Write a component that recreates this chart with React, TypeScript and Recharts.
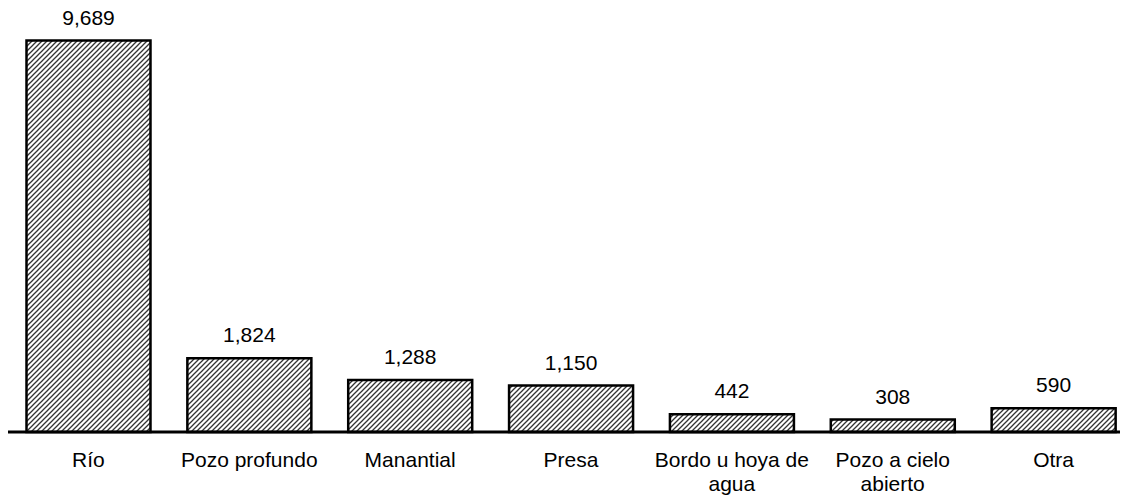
import React from 'react'
import { BarChart, Bar, XAxis, YAxis, LabelList } from 'recharts'

const categories = ['Río', 'Pozo profundo', 'Manantial', 'Presa', 'Bordo u hoya de agua', 'Pozo a cielo abierto', 'Otra']
const values = [9689, 1824, 1288, 1150, 442, 308, 590]

const data = categories.map((name, i) => ({ name, value: values[i] }))

const FONT = '"Liberation Sans", Arial, sans-serif'
const FONT_SIZE = 21

// split a label into lines that fit in maxWidth, measured with canvas
let ctx: CanvasRenderingContext2D | null = null
const wrap = (label: string, maxWidth: number) => {
  if (!ctx) {
    ctx = document.createElement('canvas').getContext('2d')
    if (ctx) ctx.font = `${FONT_SIZE}px ${FONT}`
  }
  const words = label.split(' ')
  const lines: string[] = []
  let cur = ''
  words.forEach((w) => {
    const test = cur ? cur + ' ' + w : w
    const width = ctx ? ctx.measureText(test).width : test.length * 11
    if (width > maxWidth && cur) {
      lines.push(cur)
      cur = w
    } else {
      cur = test
    }
  })
  if (cur) lines.push(cur)
  return lines
}

const Tick = (props: any) => {
  const { x, y, payload } = props
  const lines = wrap(String(payload.value), 158)
  return (
    <text
      x={x}
      y={y}
      textAnchor="middle"
      fontSize={FONT_SIZE}
      fontFamily={FONT}
      fill="#000"
    >
      {lines.map((l, i) => (
        <tspan key={i} x={x} dy={i === 0 ? 27 : 24}>
          {l}
        </tspan>
      ))}
    </text>
  )
}

const App: React.FC = () => {
  return (
    <div style={{ marginTop: -8 }}>
      <BarChart
        width={1126}
        height={497}
        data={data}
        margin={{ top: 28, right: 0, left: 0, bottom: 0 }}
        barCategoryGap="11.5%"
      >
        <defs>
          <pattern id="hatch" patternUnits="userSpaceOnUse" width="5" height="5">
            <rect width="5" height="5" fill="#fff" />
            <path d="M-1.25,1.25 l2.5,-2.5 M0,5 l5,-5 M3.75,6.25 l2.5,-2.5" stroke="#333" strokeWidth="1.3" />
          </pattern>
        </defs>
        <XAxis
          dataKey="name"
          height={65}
          interval={0}
          tickLine={false}
          axisLine={{ stroke: '#000', strokeWidth: 3 }}
          tick={<Tick />}
        />
        <YAxis hide domain={[0, 10000]} />
        <Bar dataKey="value" fill="url(#hatch)" stroke="#000" strokeWidth={2.5} isAnimationActive={false}>
          <LabelList
            dataKey="value"
            position="top"
            offset={16}
            formatter={(v: any) => Number(v).toLocaleString('en-US')}
            style={{ fontSize: FONT_SIZE, fontFamily: FONT, fill: '#000' }}
          />
        </Bar>
      </BarChart>
    </div>
  )
}

export default App
